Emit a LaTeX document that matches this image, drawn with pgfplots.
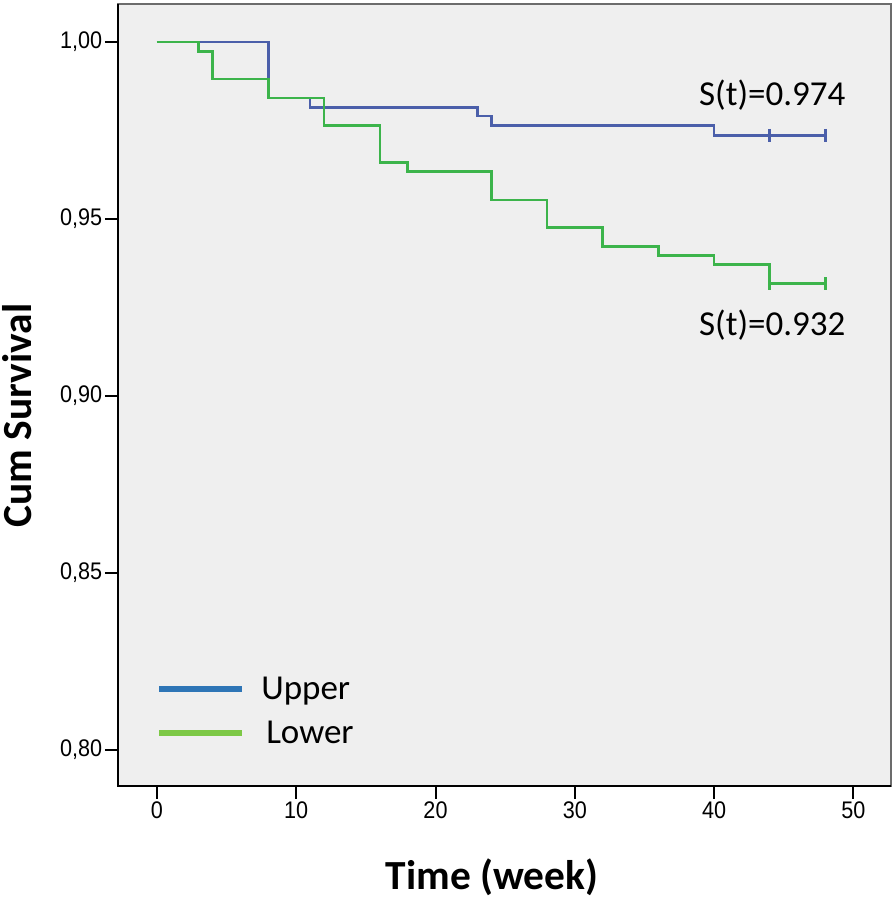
\documentclass[border=0pt]{standalone}
\usepackage{fontspec}
\usepackage{pgfplots}
\pgfplotsset{compat=1.18}
\usetikzlibrary{calc}
\setmainfont{Carlito}
\newfontfamily\tickfont[FakeStretch=0.9]{Liberation Sans}
\definecolor{bgray}{HTML}{EFEFEF}
\definecolor{upline}{RGB}{75,95,170}
\definecolor{lowline}{RGB}{60,180,75}
\definecolor{legblue}{RGB}{46,117,182}
\definecolor{leggreen}{RGB}{125,200,70}
\begin{document}
\begin{tikzpicture}
\begin{axis}[
  scale only axis,
  width=386.5pt, height=390.9pt,
  xmin=-2.8, xmax=52.7,
  ymin=0.78995, ymax=1.0107,
  axis background/.style={fill=bgray},
  axis line style={draw=gray!85!black, line width=1pt},
  xtick={0,10,20,30,40,50},
  ytick={0.80,0.85,0.90,0.95,1.00},
  tick align=outside,
  xtick pos=bottom, ytick pos=left,
  major tick length=6.5pt,
  every tick/.style={black, line width=1pt},
  tick label style={font=\tickfont\fontsize{12}{14}\selectfont, inner sep=1.2pt},
  /pgf/number format/assume math mode=true,
  yticklabel style={/pgf/number format/.cd, fixed, fixed zerofill, precision=2, use comma},
  scaled y ticks=false,
  xlabel={Time (week)},
  ylabel={Cum Survival},
  every axis x label/.style={at={(axis description cs:0.4838,-0.1174)}, anchor=center, font=\bfseries\fontsize{20.7}{24}\selectfont},
  every axis y label/.style={at={(axis description cs:-0.1307,0.4736)}, anchor=center, rotate=90, font=\bfseries\fontsize{20.7}{24}\selectfont},
  legend style={at={(axis description cs:0.0413,0.0958)}, anchor=west, draw=none, fill=none,
    font=\fontsize{17.5}{20}\selectfont, row sep=11pt,
    nodes={inner sep=0pt, text height=11pt, text depth=0pt}, column sep=8pt},
  legend cell align=left,
  legend image code/.code={\draw[#1] (0pt,0pt) -- (41.5pt,0pt);},
  clip=false,
]
\addplot[const plot, upline, line width=1.3pt, forget plot] coordinates {
  (0,1) (8,0.98415) (11,0.98143) (23,0.97905) (24,0.97634) (40,0.97359) (48,0.97359)};
\addplot[const plot, lowline, line width=1.3pt, forget plot] coordinates {
  (0,1) (3,0.99728) (4,0.98953) (8,0.98415) (12,0.97634) (16,0.96586) (18,0.96332)
  (24,0.95539) (28,0.94755) (32,0.94226) (36,0.93963) (40,0.93708) (44,0.93170) (48,0.93170)};
\addplot[only marks, mark=|, mark size=3.25pt, mark options={upline, line width=1.5pt}, forget plot] coordinates {
  (44,0.97359) (48,0.97359)};
\addplot[only marks, mark=|, mark size=3.25pt, mark options={lowline, line width=1.5pt}, forget plot] coordinates {
  (44,0.93170) (48,0.93170)};
\draw[black, line width=1pt] (rel axis cs:0,1) -- (rel axis cs:0,0) -- (rel axis cs:1,0);
\node[font=\fontsize{17.5}{20}\selectfont] at (axis cs:44.18,0.9849) {S(t)=0.974};
\node[font=\fontsize{17.5}{20}\selectfont] at (axis cs:44.18,0.9201) {S(t)=0.932};
\addlegendimage{legblue, line width=3pt}
\addlegendentry{Upper}
\addlegendimage{leggreen, line width=3pt}
\addlegendentry{\hspace{2.5pt}Lower}
\end{axis}
\pgfresetboundingbox
\path ($(current axis.south west)+(-59pt,-56.65pt)$) rectangle ($(current axis.north east)+(2.5pt,2pt)$);
\end{tikzpicture}
\end{document}
